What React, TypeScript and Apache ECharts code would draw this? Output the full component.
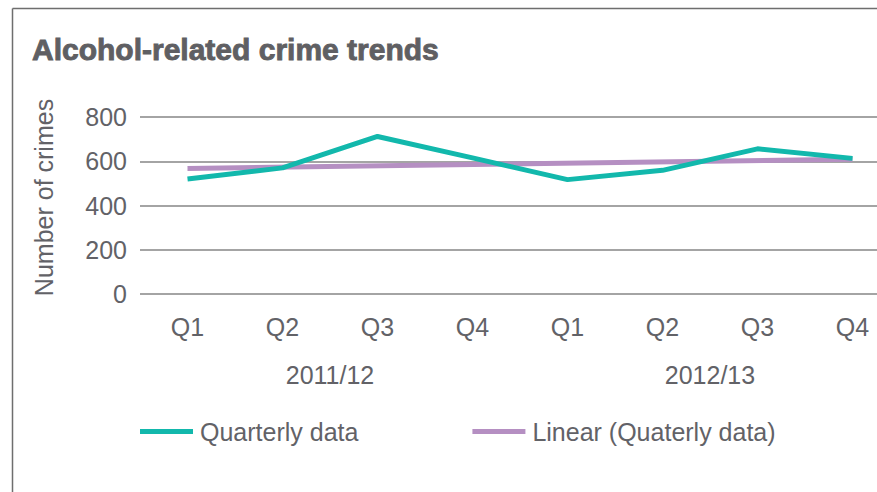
import React, { useEffect, useRef } from "react";
import * as echarts from "echarts";

const categories = ["Q1", "Q2", "Q3", "Q4", "Q1", "Q2", "Q3", "Q4"];
const years = ["2011/12", "2012/13"];
const quarterly = [520, 570, 712, 615, 517, 559, 656, 613];
// Linear trend: only its two end points, joined straight
const trend = [567, null, null, null, null, null, null, 609];
const yMax = 800;
const yStep = 200;

const TEXT = "#626267";
const FONT = "'Liberation Sans', Arial, sans-serif";

export default function App() {
  const ref = useRef<HTMLDivElement>(null);
  useEffect(() => {
    document.body.style.margin = "0";
    const chart = echarts.init(ref.current!, null, { renderer: "svg" });
    chart.setOption({
      animation: false,
      backgroundColor: "#ffffff",
      textStyle: { fontFamily: FONT, color: TEXT },
      title: {
        text: "Alcohol-related crime trends",
        left: 32,
        top: 34,
        padding: 0,
        textStyle: {
          fontFamily: FONT,
          fontSize: 30,
          fontWeight: "bold",
          color: "#5f5f63",
          textBorderColor: "#5f5f63",
          textBorderWidth: 0.9,
        },
      },
      graphic: [
        { type: "line", shape: { x1: 12.5, y1: 8.5, x2: 877, y2: 8.5 }, style: { stroke: "#6e6e6e", lineWidth: 1.5 } },
        { type: "line", shape: { x1: 12.5, y1: 8.5, x2: 12.5, y2: 492 }, style: { stroke: "#6e6e6e", lineWidth: 1.5 } },
      ],
      legend: {
        left: 140,
        top: 419,
        padding: 0,
        icon: "rect",
        itemWidth: 53,
        itemHeight: 5,
        itemGap: 114,
        data: ["Quarterly data", "Linear (Quaterly data)"],
        textStyle: { fontFamily: FONT, fontSize: 25, color: TEXT, padding: [0, 0, 0, 2] },
      },
      grid: {
        left: 140,
        width: 760,
        top: 117,
        height: 177,
        containLabel: false,
        outerBoundsMode: "none",
      },
      xAxis: [
        {
          type: "category",
          data: categories,
          boundaryGap: true,
          axisLine: { show: false },
          axisTick: { show: false },
          axisLabel: { fontFamily: FONT, fontSize: 25, color: TEXT, margin: 20 },
        },
        {
          type: "category",
          data: years,
          position: "bottom",
          offset: 48,
          boundaryGap: true,
          axisLine: { show: false },
          axisTick: { show: false },
          axisLabel: { fontFamily: FONT, fontSize: 25, color: TEXT, margin: 20 },
        },
      ],
      yAxis: {
        type: "value",
        min: 0,
        max: yMax,
        interval: yStep,
        name: "Number of crimes",
        nameLocation: "middle",
        nameGap: 84,
        nameTextStyle: { fontFamily: FONT, fontSize: 25, color: TEXT, padding: [0, 0, 0, 16] },
        axisLine: { show: false },
        axisTick: { show: false },
        axisLabel: { fontFamily: FONT, fontSize: 25, color: TEXT, margin: 13 },
        splitLine: { lineStyle: { color: "#868686", width: 1.5 } },
      },
      series: [
        {
          name: "Linear (Quaterly data)",
          type: "line",
          data: trend,
          connectNulls: true,
          showSymbol: false,
          symbol: "none",
          color: "#b58fc2",
          lineStyle: { color: "#b58fc2", width: 5 },
          z: 2,
        },
        {
          name: "Quarterly data",
          type: "line",
          data: quarterly,
          showSymbol: false,
          symbol: "none",
          color: "#12b8ac",
          lineStyle: { color: "#12b8ac", width: 5 },
          z: 3,
        },
      ],
    });
    return () => chart.dispose();
  }, []);
  return <div ref={ref} style={{ width: 877, height: 492 }} />;
}
